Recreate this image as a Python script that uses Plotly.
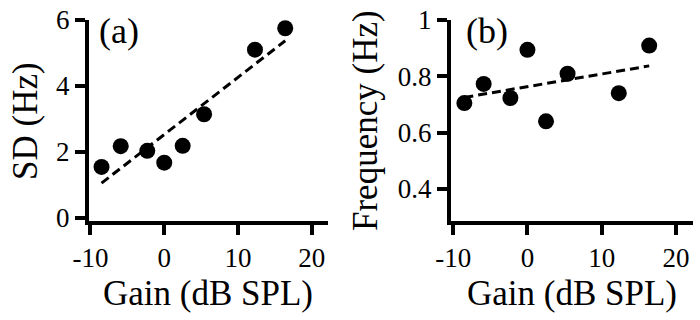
import plotly.graph_objects as go

# gain (dB SPL) of each point, same for both panels
gain = [-8.5, -5.9, -2.3, 0.0, 2.5, 5.4, 12.3, 16.4]
sd_hz = [1.54, 2.17, 2.03, 1.67, 2.18, 3.14, 5.10, 5.75]
freq_hz = [0.705, 0.773, 0.723, 0.894, 0.640, 0.809, 0.740, 0.909]

# dashed regression lines, value at first and last gain
fit_sd = [1.05, 5.37]
fit_freq = [0.725, 0.837]

x_ticks = [-10, 0, 10, 20]
x_ticktext = ["-10", "0", "10", "20"]
sd_ticks = [0, 2, 4, 6]
freq_ticks = [0.4, 0.6, 0.8, 1]
freq_ticktext = ["0.4", "0.6", "0.8", "1"]

W, H = 700, 320
FONT = "Liberation Serif, Times New Roman, serif"


def px(x):
    return x / W


def py(y):
    return 1 - y / H


fig = go.Figure()

for ax, yvals, fit in [("", sd_hz, fit_sd), ("2", freq_hz, fit_freq)]:
    fig.add_trace(go.Scatter(
        x=[gain[0], gain[-1]], y=fit,
        mode="lines",
        line=dict(color="black", width=3, dash="9px,5px"),
        xaxis="x" + ax, yaxis="y" + ax,
        showlegend=False,
    ))
    fig.add_trace(go.Scatter(
        x=gain, y=yvals,
        mode="markers",
        marker=dict(color="black", size=16),
        cliponaxis=False,
        xaxis="x" + ax, yaxis="y" + ax,
        showlegend=False,
    ))

axis_style = dict(
    showline=True, linecolor="black", linewidth=4,
    ticks="outside", ticklen=10, tickwidth=4, tickcolor="black",
    showgrid=False, zeroline=False, automargin=False,
    tickfont=dict(family=FONT, size=27, color="black"),
)

y_dom = [py(221), py(20)]

fig.update_layout(
    template="none",
    width=W, height=H,
    margin=dict(l=0, r=0, t=0, b=0),
    paper_bgcolor="white",
    plot_bgcolor="white",
    font=dict(family=FONT, color="black"),
    xaxis=dict(domain=[px(89), px(328)], range=[-10.2, 22.2],
               tickvals=x_ticks, ticktext=x_ticktext, anchor="y", **axis_style),
    yaxis=dict(domain=y_dom, range=[-0.1, 6], tickvals=sd_ticks,
               anchor="x", **axis_style),
    xaxis2=dict(domain=[px(451), px(693)], range=[-10.3, 22.3],
                tickvals=x_ticks, ticktext=x_ticktext, anchor="y2", **axis_style),
    yaxis2=dict(domain=y_dom, range=[0.286, 1.0], tickvals=freq_ticks,
                ticktext=freq_ticktext, anchor="x2", **axis_style),
)

labels = [
    ("Gain (dB SPL)", 208, 293, 0),
    ("Gain (dB SPL)", 572, 293, 0),
    ("SD (Hz)", 25, 121, -90),
    ("Frequency (Hz)", 365, 121, -90),
]
for text, x, y, angle in labels:
    fig.add_annotation(
        text=text, x=px(x), y=py(y), xref="paper", yref="paper",
        showarrow=False, textangle=angle, xanchor="center", yanchor="middle",
        font=dict(family=FONT, size=35, color="black"),
    )

for text, x in [("(a)", 97), ("(b)", 464)]:
    fig.add_annotation(
        text=text, x=px(x), y=py(31), xref="paper", yref="paper",
        showarrow=False, xanchor="left", yanchor="middle",
        font=dict(family=FONT, size=36, color="black"),
    )

fig.write_html("out.html", config={"displayModeBar": False},
               post_script="document.body.style.margin='0';")
